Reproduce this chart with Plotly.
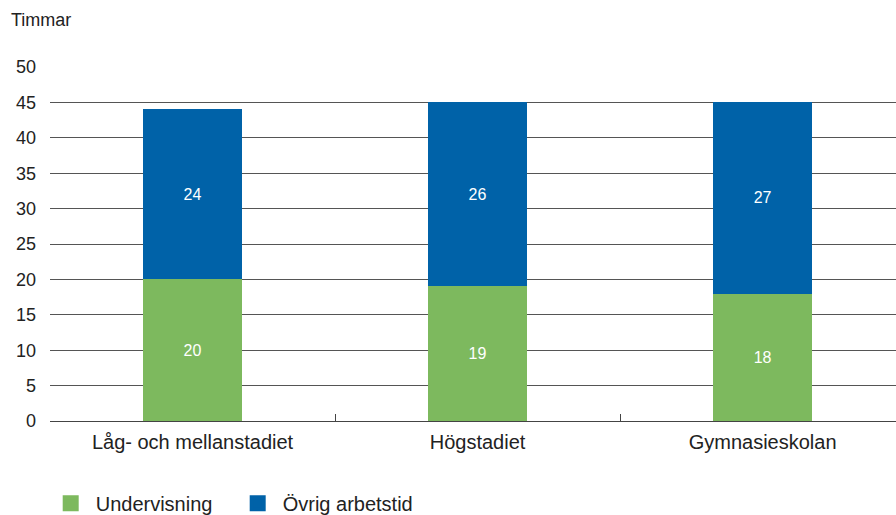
import plotly.graph_objects as go

categories = ["Låg- och mellanstadiet", "Högstadiet", "Gymnasieskolan"]
undervisning = [20, 19, 18]
ovrig = [24, 26, 27]
series_names = ["Undervisning", "Övrig arbetstid"]
y_ticks = [0, 5, 10, 15, 20, 25, 30, 35, 40, 45, 50]

GREEN = "#7DB95E"
BLUE = "#0062A8"
FONT = "Liberation Sans, Arial, sans-serif"
TXT = "#222222"

fig = go.Figure()
for vals, name, col in [(undervisning, series_names[0], GREEN), (ovrig, series_names[1], BLUE)]:
    fig.add_trace(go.Bar(
        x=categories, y=vals, name=name, showlegend=False,
        marker=dict(color=col, line=dict(width=0)),
        text=[str(v) for v in vals], textposition="inside",
        insidetextanchor="middle", textfont=dict(color="white", size=16, family=FONT),
    ))
# legend entries (larger swatches)
for name, col in [(series_names[0], GREEN), (series_names[1], BLUE)]:
    fig.add_trace(go.Bar(
        x=[None], y=[None], name=name, showlegend=True, hoverinfo="skip",
        marker=dict(color=col, line=dict(color=col, width=4)),
    ))

fig.update_layout(
    width=896, height=515,
    barmode="stack", bargap=0.65,
    plot_bgcolor="white", paper_bgcolor="white",
    margin=dict(l=50, r=0, t=67, b=94, autoexpand=False),
    font=dict(family=FONT, size=17, color=TXT),
    showlegend=True,
    legend=dict(orientation="h", xref="container", yref="container",
                x=0.051, y=0.023, xanchor="left", yanchor="middle",
                font=dict(size=20, color=TXT), itemwidth=40,
                traceorder="normal", entrywidth=132),
    annotations=[dict(text="Timmar", xref="paper", yref="paper", x=-0.049, y=1.0,
                      yshift=35, xanchor="left", yanchor="bottom", showarrow=False,
                      font=dict(size=18, color=TXT))],
)
fig.update_xaxes(
    range=[-0.5, 2.468], showgrid=False, showline=True, linecolor="#444444", linewidth=1,
    ticks="inside", tickson="boundaries", ticklen=7, tickcolor="#444444",
    tickfont=dict(size=20, color=TXT), ticklabelstandoff=3, tickangle=0,
)
fig.update_yaxes(
    range=[0, 50], tickvals=y_ticks, showgrid=True, gridcolor="#555555", gridwidth=1,
    zeroline=False, showline=False, ticks="", ticklabelstandoff=13,
    tickfont=dict(size=18, color=TXT),
)

fig.write_html("out.html")
